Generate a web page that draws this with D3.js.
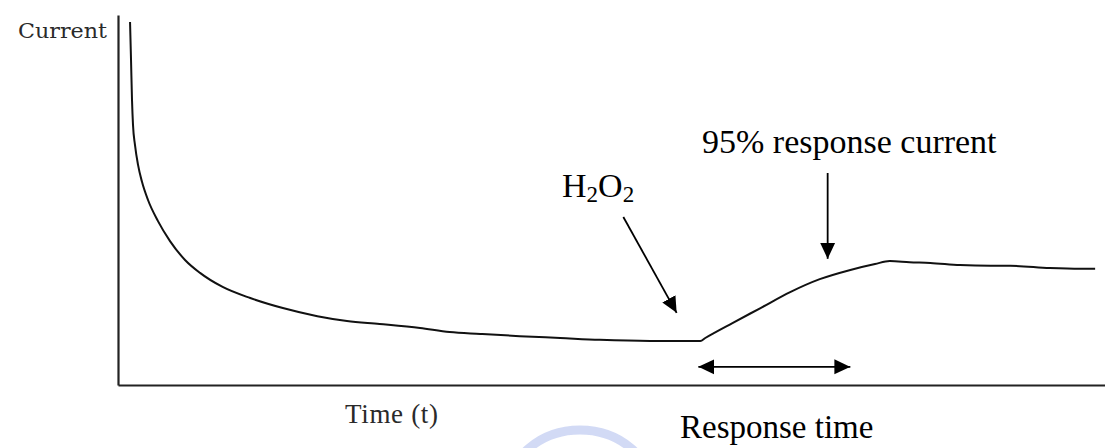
<!DOCTYPE html>
<html>
<head>
<meta charset="utf-8">
<script src="https://cdn.jsdelivr.net/npm/d3@7"></script>
<style>
  body { margin: 0; background: #fff; }
  text { font-family: "Liberation Serif", "Times New Roman", serif; fill: #000; }
</style>
</head>
<body>
<div id="chart"></div>
<script>
// trace (arbitrary units)
const time = [12.2, 13.2, 14.2, 15.2, 17.2, 20.3, 24.3, 30.4, 40.5, 52.7, 67.9, 83.1, 106, 134, 167, 202, 232,
  265, 306, 336, 367, 407, 448, 488, 539, 590, 595, 623, 651, 681, 711, 742, 767, 782, 802, 823, 853, 884, 904,
  944, 975, 990];
const current = [98.1, 87.8, 77.0, 70.3, 64.9, 59.5, 54.9, 50.0, 44.3, 38.9, 33.8, 30.3, 26.5, 23.5, 20.8,
  18.6, 17.3, 16.5, 15.4, 14.3, 13.8, 13.2, 12.7, 12.2, 11.9, 11.9, 12.7, 16.8, 20.8, 25.1, 28.6, 31.1, 32.7,
  33.5, 33.2, 33.0, 32.4, 32.2, 32.2, 31.6, 31.4, 31.4];

// annotation anchors, in data units
const injectArrow = [[512, 45.4], [566, 19.5]];
const plateauArrow = [[719, 57.3], [719, 34.1]];
const responseSpan = [[588, 4.9], [742, 4.9]];

const svgWidth = 1105
const svgHeight = 448
const margin = { top: 15, right: 0, bottom: 63, left: 118 };
const width = svgWidth - margin.left - margin.right;
const height = svgHeight - margin.top - margin.bottom;

const svg = d3.select("#chart")
  .append("svg")
  .attr("width", svgWidth)
  .attr("height", svgHeight)
  .style("display", "block");

svg.append("rect").attr("width", svgWidth).attr("height", svgHeight).attr("fill", "#fff");

// faint watermark badge at the bottom
svg.append("ellipse")
  .attr("cx", 580).attr("cy", 492).attr("rx", 72).attr("ry", 62)
  .attr("fill", "none").attr("stroke", "#c3cdf2").attr("stroke-width", 9).attr("opacity", 0.75);

const defs = svg.append("defs");
defs.append("marker")
  .attr("id", "head")
  .attr("markerUnits", "userSpaceOnUse")
  .attr("viewBox", "0 -8 16 16")
  .attr("refX", 16).attr("refY", 0)
  .attr("markerWidth", 16).attr("markerHeight", 16)
  .attr("orient", "auto-start-reverse")
  .append("path")
  .attr("d", "M0,-7.5L16,0L0,7.5Z")
  .attr("fill", "#000");

const chartGroup = svg.append("g")
  .attr("transform", `translate(${margin.left}, ${margin.top})`);

const xScale = d3.scaleLinear().domain([0, 1000]).range([0, width]);
const yScale = d3.scaleLinear().domain([0, 100]).range([height, 0]);

// bare axes, no ticks
chartGroup.append("g")
  .attr("transform", `translate(0, ${height})`)
  .call(d3.axisBottom(xScale).tickValues([]).tickSizeOuter(0))
  .select(".domain").attr("stroke", "#222").attr("stroke-width", 2.2);
chartGroup.append("g")
  .call(d3.axisLeft(yScale).tickValues([]).tickSizeOuter(0))
  .select(".domain").attr("stroke", "#222").attr("stroke-width", 2.2);

const points = time.map((t, i) => [t, current[i]]);
const line = d3.line()
  .x(d => xScale(d[0]))
  .y(d => yScale(d[1]))
  .curve(d3.curveMonotoneX);

chartGroup.append("path")
  .datum(points)
  .attr("d", line)
  .attr("fill", "none")
  .attr("stroke", "#111")
  .attr("stroke-width", 2);

// arrows
function arrow(pts, both) {
  chartGroup.append("line")
    .attr("x1", xScale(pts[0][0])).attr("y1", yScale(pts[0][1]))
    .attr("x2", xScale(pts[1][0])).attr("y2", yScale(pts[1][1]))
    .attr("stroke", "#000")
    .attr("stroke-width", 1.8)
    .attr("marker-end", "url(#head)")
    .attr("marker-start", both ? "url(#head)" : null);
}
arrow(injectArrow, false);
arrow(plateauArrow, false);
arrow(responseSpan, true);

// labels
const h2o2 = svg.append("text")
  .attr("x", 562).attr("y", 197)
  .style("font-size", "34px");
h2o2.append("tspan").text("H");
h2o2.append("tspan").attr("dy", 5).style("font-size", "23px").text("2");
h2o2.append("tspan").attr("dy", -5).text("O");
h2o2.append("tspan").attr("dy", 5).style("font-size", "23px").text("2");

svg.append("text")
  .attr("x", 702).attr("y", 153)
  .style("font-size", "34px")
  .text("95% response current");

svg.append("text")
  .attr("x", 680).attr("y", 438)
  .style("font-size", "33px")
  .text("Response time");

svg.append("text")
  .attr("x", 345).attr("y", 423)
  .style("font-size", "27px")
  .style("fill", "#2a2a2a")
  .attr("textLength", 93)
  .text("Time (t)");

svg.append("text")
  .attr("x", 18).attr("y", 38)
  .style("font-family", "'DejaVu Serif', serif")
  .style("font-size", "21px")
  .style("fill", "#2a2a2a")
  .attr("textLength", 89)
  .attr("lengthAdjust", "spacingAndGlyphs")
  .text("Current");
</script>
</body>
</html>
